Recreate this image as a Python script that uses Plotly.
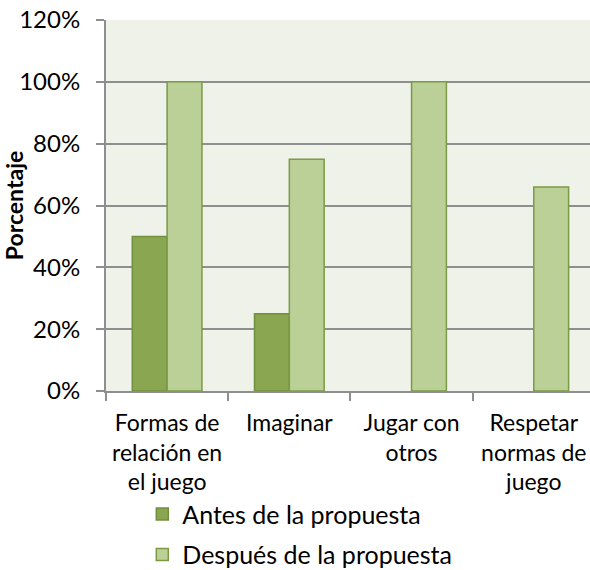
import plotly.graph_objects as go

categorias = ["Formas de<br>relación en<br>el juego", "Imaginar", "Jugar con<br>otros", "Respetar<br>normas de<br>juego"]
antes = [0.50, 0.25, 0.0, 0.0]
despues = [1.00, 0.75, 1.00, 0.66]

FONT = "Lato, Carlito, Calibri, sans-serif"
GRID = "#8E8E8E"


def outline(values, width=1.5):
    # no outline on empty bars, so a zero value leaves no mark
    return [width if v > 0 else 0 for v in values]


fig = go.Figure()
fig.add_trace(go.Bar(
    x=categorias, y=antes, name="Antes de la propuesta", legendgroup="antes",
    marker=dict(color="#8BA650", line=dict(color="#71903C", width=outline(antes))),
))
fig.add_trace(go.Bar(
    x=categorias, y=despues, name="Después de la propuesta", legendgroup="despues",
    marker=dict(color="#BBD097", line=dict(color="#7A9A45", width=outline(despues))),
))

fig.update_layout(
    width=590, height=570,
    margin=dict(l=106, r=0, t=20, b=179, autoexpand=False),
    paper_bgcolor="white",
    plot_bgcolor="#EFF2E9",
    barmode="group",
    bargap=0.43,
    bargroupgap=0,
    font=dict(family=FONT, size=22, color="#000000"),
    legend=dict(
        orientation="v",
        x=0.075, y=-0.27, xanchor="left", yanchor="top",
        font=dict(family=FONT, size=25),
        bgcolor="rgba(0,0,0,0)",
        tracegroupgap=5,
    ),
    showlegend=True,
)
fig.update_xaxes(
    type="category",
    range=[-0.5, 3.46],
    showline=True, linecolor=GRID, linewidth=2,
    ticks="outside", tickson="boundaries", ticklen=8, tickcolor=GRID, tickwidth=2,
    showgrid=False,
    tickfont=dict(family=FONT, size=23),
    ticklabelstandoff=10,
    tickangle=0,
)
fig.update_yaxes(
    range=[0, 1.2], dtick=0.2, tickformat=".0%",
    showline=True, linecolor=GRID, linewidth=2,
    ticks="outside", ticklen=8, tickcolor=GRID, tickwidth=2,
    showgrid=True, gridcolor=GRID, gridwidth=2,
    zeroline=False,
    tickfont=dict(family=FONT, size=24),
    ticklabelstandoff=11,
    title=dict(text="<b>Porcentaje</b>", font=dict(family=FONT, size=23), standoff=0),
)

fig.write_html("out.html")
